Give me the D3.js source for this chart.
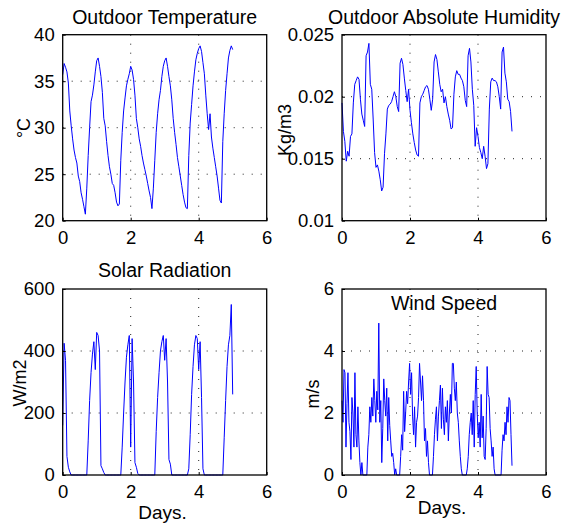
<!DOCTYPE html>
<html>
<head>
<meta charset="utf-8">
<script src="https://cdn.jsdelivr.net/npm/d3@7"></script>
<style>
  body { margin: 0; background: #fff; }
  svg { display: block; }
  text { font-family: "Liberation Sans", Arial, Helvetica, sans-serif; fill: #000; }
</style>
</head>
<body>
<script>
// hourly samples, day 0 .. day 5
const tempValues = [
  35.7, 36.9, 36.5, 36.0, 34.8, 31.8, 30.2, 28.8, 27.6, 26.8, 26.2, 24.8, 24.2, 23.0, 22.3, 21.5, 20.7, 23.5, 27.0, 30.0, 32.8, 33.5, 34.6, 36.0, 37.2,
  37.5, 36.6, 35.5, 33.8, 31.0, 30.2, 28.5, 27.0, 25.8, 25.0, 24.0, 23.8, 23.0, 22.0, 21.6, 21.8, 26.5, 29.5, 31.8, 33.2, 34.5, 35.2, 35.8, 36.6,
  36.2, 35.2, 33.5, 31.0, 30.0, 28.8, 28.0, 27.0, 26.2, 25.5, 24.8, 24.0, 23.2, 22.5, 21.3, 23.5, 26.5, 29.5, 31.5, 33.0, 34.0, 35.5, 36.6, 37.2,
  37.5, 36.6, 35.5, 34.5, 33.0, 31.0, 29.5, 28.2, 26.8, 25.8, 24.8, 23.8, 22.8, 22.0, 21.4, 21.3, 27.0, 30.5, 32.5, 34.5, 36.0, 37.3, 38.0, 38.5,
  38.8, 38.2, 37.0, 35.8, 33.5, 31.5, 29.8, 31.5, 29.0, 27.8, 26.8, 25.8, 24.8, 23.5, 22.2, 21.9, 28.5, 31.5, 34.0, 35.8, 37.5, 38.3, 38.8, 38.4
];

const humValues = [
  0.0195, 0.0172, 0.0164, 0.0148, 0.0156, 0.0152, 0.0168, 0.0170, 0.0195, 0.0210, 0.0213, 0.0216, 0.0214, 0.0198, 0.0186, 0.0181, 0.0176, 0.0233, 0.0236, 0.0243, 0.0210, 0.0206, 0.0182, 0.0155, 0.0143,
  0.0145, 0.0140, 0.0133, 0.0124, 0.0127, 0.0154, 0.0170, 0.0190, 0.0193, 0.0194, 0.0196, 0.0200, 0.0204, 0.0200, 0.0192, 0.0188, 0.0227, 0.0231, 0.0226, 0.0215, 0.0205, 0.0196, 0.0206, 0.0189,
  0.0179, 0.0170, 0.0163, 0.0157, 0.0153, 0.0152, 0.0195, 0.0200, 0.0202, 0.0205, 0.0208, 0.0209, 0.0206, 0.0198, 0.0189, 0.0198, 0.0228, 0.0234, 0.0230, 0.0220, 0.0210, 0.0204, 0.0206, 0.0195,
  0.0200, 0.0192, 0.0186, 0.0181, 0.0174, 0.0175, 0.0202, 0.0216, 0.0221, 0.0218, 0.0218, 0.0215, 0.0213, 0.0208, 0.0197, 0.0192, 0.0233, 0.0239, 0.0228, 0.0206, 0.0193, 0.0160, 0.0175, 0.0168,
  0.0159, 0.0155, 0.0150, 0.0160, 0.0152, 0.0142, 0.0146, 0.0190, 0.0212, 0.0215, 0.0213, 0.0213, 0.0212, 0.0208, 0.0200, 0.0190, 0.0236, 0.0240, 0.0219, 0.0212, 0.0198, 0.0196, 0.0188, 0.0172
];

const solarValues = [
  160, 425, 370, 60, 25, 10, 0, 0, 0, 0, 0, 0, 0, 0, 0, 0, 0, 0,
  110, 240, 330, 390, 430, 340, 460, 450, 400, 30, 20, 8, 0, 0, 0, 0, 0, 0, 0, 0, 0, 0, 0, 0,
  90, 200, 300, 380, 420, 450, 90, 440, 300, 40, 25, 5, 0, 0, 0, 0, 0, 0, 0, 0, 0, 0, 0, 0,
  140, 250, 330, 400, 430, 450, 370, 440, 300, 50, 35, 0, 0, 0, 0, 0, 0, 0, 0, 0, 0, 0, 0,
  20, 130, 260, 350, 420, 450, 440, 340, 430, 250, 20, 0, 0, 0, 0, 0, 0, 0, 0, 0, 0, 0, 0, 0, 0,
  120, 240, 350, 420, 450, 550, 260
];

// 172 samples spread over 5 days
const windValues = [
  2.4, 1.7, 3.4, 3.3, 0.9, 2.3, 3.3, 1.7, 1.4, 0.5,
  2.5, 2.0, 0.9, 3.3, 1.3, 0.9, 2.2, 1.1, 0.4, 0,
  0.4, 0, 0, 0, 0, 0, 0.9, 1.3, 2.2, 1.7,
  2.5, 1.9, 3.1, 2.4, 1.7, 2.7, 2.1, 4.9, 1.7, 2.4,
  0.4, 1.5, 3.1, 2.4, 1.9, 2.8, 1.1, 2.5, 1.6, 1.1,
  0.6, 0.7, 0.4, 0, 0.2, 0, 0, 0, 0, 0.6,
  1.3, 0.8, 2.7, 1.4, 2.0, 2.7, 2.3, 3.0, 3.6, 2.6,
  3.3, 1.9, 1.3, 2.2, 0.9, 1.7, 1.9, 2.5, 3.6, 3.0,
  2.4, 3.2, 2.4, 1.1, 1.5, 0.6, 1.1, 0.4, 0, 0,
  0, 0, 0.6, 1.3, 1.8, 2.2, 1.1, 1.9, 2.4, 2.9,
  1.5, 2.8, 1.8, 1.3, 2.2, 1.7, 2.4, 1.1, 2.0, 2.6,
  2.0, 3.6, 3.6, 2.8, 2.4, 3.0, 2.0, 1.7, 1.1, 0.6,
  0.2, 0, 0, 0, 0, 0, 0.2, 0.6, 1.3, 1.7,
  2.0, 1.3, 2.4, 0.9, 2.6, 3.5, 2.0, 1.2, 1.7, 0.9,
  2.6, 1.2, 1.9, 0.6, 0.5, 1.5, 3.5, 2.6, 2.5, 1.5,
  1.1, 0.6, 0.9, 0.2, 0, 0, 0, 0, 0, 0,
  0, 0.8, 1.3, 1.1, 1.7, 1.3, 2.2, 1.7, 2.5, 2.4,
  1.3, 0.3
];

const xTicks = [0, 2, 4, 6];
const tempTicks = [20, 25, 30, 35, 40];
const humTicks = [0.01, 0.015, 0.02, 0.025];
const solarTicks = [0, 200, 400, 600];
const windTicks = [0, 2, 4, 6];

const width = 579;
const height = 524;

const panels = [
    { title: "Outdoor Temperature", ylabel: "°C", values: tempValues, days: 5,
      yDomain: [20, 40], yTicks: tempTicks,
      box: { x: 62.7, y: 34.7, w: 204, h: 186 },
      titleAt: [164.7, 24], ylabelAt: [30, 128], xlabelAt: null },
    { title: "Outdoor Absolute Humidity", ylabel: "Kg/m3", values: humValues, days: 5,
      yDomain: [0.01, 0.025], yTicks: humTicks,
      box: { x: 342, y: 34.7, w: 204, h: 186 },
      titleAt: [444, 24], ylabelAt: [291, 130], xlabelAt: null },
    { title: "Solar Radiation", ylabel: "W/m2", values: solarValues, days: 5,
      yDomain: [0, 600], yTicks: solarTicks,
      box: { x: 62.7, y: 289, w: 204, h: 186 },
      titleAt: [164.7, 277], ylabelAt: [26, 383], xlabelAt: [162.5, 519] },
    { title: "Wind Speed", ylabel: "m/s", values: windValues, days: 5,
      yDomain: [0, 6], yTicks: windTicks,
      box: { x: 342, y: 289, w: 204, h: 186 },
      titleAt: [444, 310], ylabelAt: [319, 394], xlabelAt: [442, 514] }
];

const svg = d3.select("body").append("svg")
    .attr("width", width)
    .attr("height", height);

panels.forEach(p => {
    const b = p.box;
    const x = d3.scaleLinear().domain([0, 6]).range([b.x, b.x + b.w]);
    const y = d3.scaleLinear().domain(p.yDomain).range([b.y + b.h, b.y]);
    const step = p.days / (p.values.length - 1);

    const g = svg.append("g");

    // dotted grid on interior ticks
    g.selectAll(".vgrid")
        .data(xTicks.slice(1, -1))
        .enter()
        .append("line")
        .attr("x1", d => x(d)).attr("x2", d => x(d))
        .attr("y1", b.y).attr("y2", b.y + b.h)
        .attr("stroke", "#222")
        .attr("stroke-width", 1)
        .attr("stroke-dasharray", "1,8");

    g.selectAll(".hgrid")
        .data(p.yTicks.slice(1, -1))
        .enter()
        .append("line")
        .attr("x1", b.x).attr("x2", b.x + b.w)
        .attr("y1", d => y(d)).attr("y2", d => y(d))
        .attr("stroke", "#222")
        .attr("stroke-width", 1)
        .attr("stroke-dasharray", "1,8");

    g.append("path")
        .datum(p.values)
        .attr("fill", "none")
        .attr("stroke", "#0000ff")
        .attr("stroke-width", 1)
        .attr("stroke-linejoin", "round")
        .attr("d", d3.line()
            .x((d, i) => x(i * step))
            .y(d => y(d)));

    const xAxis = g.append("g")
        .attr("transform", `translate(0,${b.y + b.h})`)
        .call(d3.axisBottom(x).tickValues(xTicks).tickFormat(d => String(d))
            .tickSizeInner(-3).tickSizeOuter(0).tickPadding(10));
    const yAxis = g.append("g")
        .attr("transform", `translate(${b.x},0)`)
        .call(d3.axisLeft(y).tickValues(p.yTicks).tickFormat(d => String(d))
            .tickSizeInner(-3).tickSizeOuter(0).tickPadding(8));

    [xAxis, yAxis].forEach(a => {
        a.select(".domain").remove();
        a.selectAll(".tick line").attr("stroke", "#000");
        a.selectAll("text")
            .attr("font-family", "'Liberation Sans', Arial, sans-serif")
            .attr("font-size", "18.5px")
            .attr("fill", "#000");
    });

    g.append("rect")
        .attr("x", b.x).attr("y", b.y)
        .attr("width", b.w).attr("height", b.h)
        .attr("fill", "none")
        .attr("stroke", "#000")
        .attr("stroke-width", 1.3);

    g.append("text")
        .attr("x", p.titleAt[0]).attr("y", p.titleAt[1])
        .attr("text-anchor", "middle")
        .attr("font-size", "19.5px")
        .text(p.title);

    g.append("text")
        .attr("transform", `translate(${p.ylabelAt[0]},${p.ylabelAt[1]}) rotate(-90)`)
        .attr("text-anchor", "middle")
        .attr("font-size", "18px")
        .text(p.ylabel);

    if (p.xlabelAt) {
        g.append("text")
            .attr("x", p.xlabelAt[0]).attr("y", p.xlabelAt[1])
            .attr("text-anchor", "middle")
            .attr("font-size", "19px")
            .text("Days.");
    }
});
</script>
</body>
</html>
